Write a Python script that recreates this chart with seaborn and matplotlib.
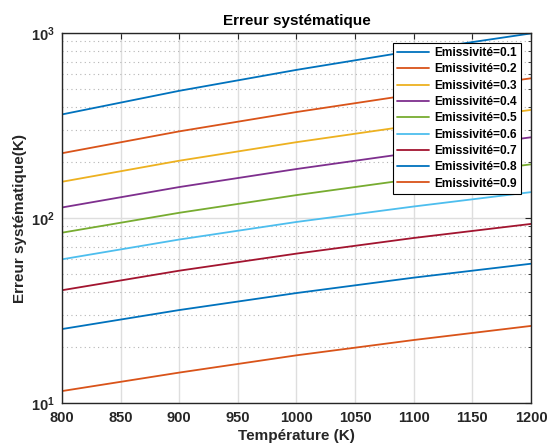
import math
import matplotlib
matplotlib.use("Agg")
import matplotlib.pyplot as plt
import matplotlib.ticker as mticker
import seaborn as sns
import pandas as pd

# Données (K)
temperatures = [800, 900, 1000, 1100, 1200]
emissivites = [0.1, 0.2, 0.3, 0.4, 0.5, 0.6, 0.7, 0.8, 0.9]
err_01 = [363, 487, 632, 802, 995]
err_02 = [224, 294, 374, 466, 569]
err_03 = [157, 204, 257, 317, 384]
err_04 = [114, 147, 184, 226, 273]
err_05 = [83.3, 106.7, 133, 162.6, 195]
err_06 = [59.8, 76.5, 95.2, 115.4, 138]
err_07 = [40.7, 51.9, 64.2, 78.0, 92.9]
err_08 = [25.1, 31.8, 39.3, 47.6, 56.6]
err_09 = [11.6, 14.6, 18.1, 21.9, 26.1]
series = [err_01, err_02, err_03, err_04, err_05, err_06, err_07, err_08, err_09]

couleurs = ["#0072BD", "#D95319", "#EDB120", "#7E2F8E", "#77AC30",
            "#4DBEEE", "#A2142F", "#0072BD", "#D95319"]

rows = []
for e, vals in zip(emissivites, series):
    for t, v in zip(temperatures, vals):
        rows.append({"T": t, "err": v, "label": f"Emissivité={e}"})
df = pd.DataFrame(rows)

sns.set_theme(style="white")
plt.rcParams["font.family"] = ["Liberation Sans", "DejaVu Sans"]
plt.rcParams["font.weight"] = "bold"
plt.rcParams["mathtext.fontset"] = "custom"
plt.rcParams["mathtext.rm"] = "Liberation Sans:bold"
plt.rcParams["mathtext.bf"] = "Liberation Sans:bold"
plt.rcParams["mathtext.default"] = "bf"

fig = plt.figure(figsize=(5.47, 4.45), dpi=100)
ax = fig.add_axes([0.1133, 0.0944, 0.8574, 0.8314])

sns.lineplot(data=df, x="T", y="err", hue="label", palette=couleurs,
             linewidth=1.3, ax=ax)

ax.set_yscale("log")
ax.set_xlim(800, 1200)
ax.set_ylim(10, 1000)
ax.set_xticks(range(800, 1201, 50))
ax.yaxis.set_major_formatter(
    mticker.FuncFormatter(lambda v, p: r"$\mathbf{10^{%d}}$" % round(math.log10(v))))
ax.yaxis.set_minor_formatter(mticker.NullFormatter())

axcol = "#262626"
for s in ax.spines.values():
    s.set_color(axcol)
    s.set_linewidth(1.0)
ax.tick_params(which="both", direction="in", top=True, right=True,
               colors=axcol, labelcolor=axcol, labelsize=10.5)
ax.tick_params(which="major", length=4, width=0.8)
ax.tick_params(which="minor", length=2.5, width=0.6)
ax.tick_params(axis="x", which="major", pad=6)
ax.tick_params(axis="y", which="major", pad=5)
ax.tick_params(axis="x", which="minor", bottom=False, top=False)
for lab in ax.get_xticklabels():
    lab.set_fontweight("bold")

ax.grid(True, which="major", color="#dedede", linewidth=1.0, linestyle="-")
ax.grid(True, which="minor", axis="y", color="#b5b5b5", linewidth=0.8,
        linestyle=(0, (1, 3)))
ax.set_axisbelow(True)

ax.set_title("Erreur systématique", fontsize=11, fontweight="bold", color="black", pad=6)
ax.set_xlabel("Température (K)", fontsize=11, fontweight="bold", color=axcol, labelpad=3)
ax.set_ylabel("Erreur systématique(K)", fontsize=11, fontweight="bold", color=axcol, labelpad=3)

leg = ax.legend(loc="upper right", bbox_to_anchor=(0.9787, 0.973), fontsize=8.6,
                frameon=True, fancybox=False, edgecolor="black", framealpha=1,
                handlelength=2.7, handletextpad=0.4, labelspacing=0.36,
                borderpad=0.35, borderaxespad=0.0)
leg.get_frame().set_linewidth(0.8)
for t in leg.get_texts():
    t.set_fontweight("bold")
    t.set_color("black")

fig.savefig("out.png", dpi=100)
